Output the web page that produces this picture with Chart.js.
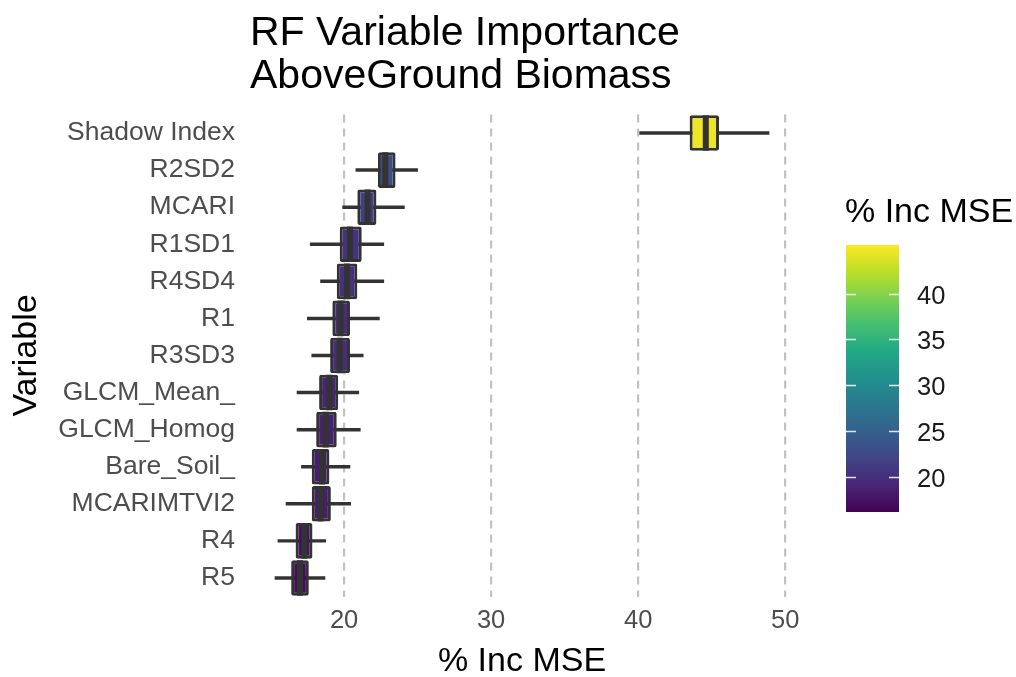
<!DOCTYPE html>
<html>
<head>
<meta charset="utf-8">
<script src="https://cdn.jsdelivr.net/npm/chart.js@4"></script>
<style>
  html, body { margin: 0; padding: 0; background: #fff; }
  #wrap { width: 1016px; height: 677px; }
</style>
</head>
<body>
<div id="wrap"><canvas id="rfChart" width="1016" height="677"></canvas></div>
<script>
// variables, top to bottom
const variables = ['Shadow Index', 'R2SD2', 'MCARI', 'R1SD1', 'R4SD4', 'R1', 'R3SD3',
    'GLCM_Mean_', 'GLCM_Homog', 'Bare_Soil_', 'MCARIMTVI2', 'R4', 'R5'];
// % Inc MSE box stats
const whiskerLow  = [40.1, 20.8, 19.9, 17.7, 18.4, 17.5, 17.8, 16.8, 16.8, 17.1, 16.05, 15.5, 15.3];
const q1          = [43.5, 22.3, 20.9, 19.7, 19.5, 19.2, 19.05, 18.3, 18.1, 17.8, 17.8, 16.7, 16.4];
const medians     = [44.6, 22.8, 21.6, 20.4, 20.2, 19.75, 19.7, 19.0, 18.75, 18.5, 18.4, 17.3, 17.0];
const q3          = [45.5, 23.5, 22.2, 21.2, 20.9, 20.4, 20.4, 19.6, 19.5, 19.0, 19.1, 17.85, 17.6];
const whiskerHigh = [48.9, 25.0, 24.1, 22.7, 22.7, 22.4, 21.3, 21.0, 21.1, 20.4, 20.45, 18.75, 18.7];

const xTicks = [20, 30, 40, 50];
const legendTicks = [20, 25, 30, 35, 40];
const fillMin = 16.15, fillMax = 45.3;

const FONT = "'Liberation Sans', Arial, sans-serif";
const viridis = ['#440154', '#482576', '#414487', '#35608D', '#2A788E', '#21908C',
    '#22A884', '#43BF71', '#7AD151', '#BBDF27', '#FDE725'];

function hexToRgb(h) {
    return [parseInt(h.substr(1, 2), 16), parseInt(h.substr(3, 2), 16), parseInt(h.substr(5, 2), 16)];
}
function viridisAt(v) {
    let t = (v - fillMin) / (fillMax - fillMin);
    t = Math.max(0, Math.min(1, t));
    const p = t * (viridis.length - 1);
    const i = Math.min(Math.floor(p), viridis.length - 2);
    const f = p - i;
    const a = hexToRgb(viridis[i]), b = hexToRgb(viridis[i + 1]);
    const c = a.map((x, k) => Math.round(x + (b[k] - x) * f));
    return `rgb(${c[0]},${c[1]},${c[2]})`;
}

// colourbar legend drawn next to the panel
const colorbar = {
    id: 'colorbar',
    afterDraw(chart) {
        const ctx = chart.ctx;
        const x0 = 846, w = 53, yTop = 245, yBot = 512;
        const yOf = v => yBot - (v - fillMin) / (fillMax - fillMin) * (yBot - yTop);
        ctx.save();
        const g = ctx.createLinearGradient(0, yBot, 0, yTop);
        viridis.forEach((c, i) => g.addColorStop(i / (viridis.length - 1), c));
        ctx.fillStyle = g;
        ctx.fillRect(x0, yTop, w, yBot - yTop);
        ctx.strokeStyle = 'rgba(255,255,255,0.85)';
        ctx.lineWidth = 1.5;
        ctx.fillStyle = '#1a1a1a';
        ctx.font = `25.5px ${FONT}`;
        ctx.textBaseline = 'middle';
        ctx.textAlign = 'left';
        legendTicks.forEach(v => {
            const y = Math.round(yOf(v)) + 0.5;
            ctx.beginPath();
            ctx.moveTo(x0, y); ctx.lineTo(x0 + 10, y);
            ctx.moveTo(x0 + w - 10, y); ctx.lineTo(x0 + w, y);
            ctx.stroke();
            ctx.fillText(String(v), 917, y + 2);
        });
        ctx.fillStyle = '#000';
        ctx.font = `34px ${FONT}`;
        ctx.fillText('% Inc MSE', 845, 213);
        ctx.restore();
    }
};

new Chart(document.getElementById('rfChart'), {
    data: {
        labels: variables,
        datasets: [
            {
                type: 'line',
                indexAxis: 'y',
                data: medians,
                showLine: false,
                pointStyle: 'line',
                pointRotation: 90,
                pointRadius: 17.8,
                pointBorderColor: '#333333',
                pointBorderWidth: 6,
                order: 0
            },
            {
                type: 'bar',
                indexAxis: 'y',
                data: variables.map((_, i) => [q1[i], q3[i]]),
                backgroundColor: medians.map(viridisAt),
                borderColor: '#333333',
                borderWidth: 3,
                borderRadius: 2,
                borderSkipped: false,
                barPercentage: 0.96,
                categoryPercentage: 1,
                grouped: false,
                order: 1
            },
            {
                type: 'bar',
                indexAxis: 'y',
                data: variables.map((_, i) => [whiskerLow[i], whiskerHigh[i]]),
                backgroundColor: '#333333',
                barThickness: 2.8,
                grouped: false,
                order: 2
            }
        ]
    },
    options: {
        indexAxis: 'y',
        responsive: false,
        animation: false,
        layout: { padding: { left: 0, right: 222, top: 0, bottom: 0 } },
        plugins: {
            legend: { display: false },
            tooltip: { enabled: false },
            title: {
                display: true,
                text: ['RF Variable Importance', 'AboveGround Biomass'],
                align: 'start',
                fullSize: false,
                color: '#000',
                font: { family: FONT, size: 41, weight: 'normal', lineHeight: 1.04 },
                padding: { top: 12.5, bottom: 16.7 }
            }
        },
        scales: {
            x: {
                type: 'linear',
                min: 13.6,
                max: 50.6,
                afterBuildTicks: s => { s.ticks = xTicks.map(v => ({ value: v })); },
                afterFit: s => { s.height = 80.5; },
                grid: { color: '#c2c2c2', lineWidth: 2.2, drawTicks: false },
                border: { display: false, dash: [8, 6] },
                ticks: { color: '#4d4d4d', padding: 9, font: { family: FONT, size: 25.5 } },
                title: {
                    display: true, text: '% Inc MSE', color: '#000',
                    font: { family: FONT, size: 34, lineHeight: 0.9 },
                    padding: { top: 0, bottom: 0 }
                }
            },
            y: {
                type: 'category',
                afterFit: s => { s.width = 250; },
                grid: { display: false, drawTicks: false },
                border: { display: false },
                ticks: { color: '#4d4d4d', padding: 15, font: { family: FONT, size: 26.5 } },
                title: {
                    display: true, text: 'Variable', color: '#000',
                    font: { family: FONT, size: 34, lineHeight: 0.9 },
                    padding: { top: 11.7, bottom: 0 }
                }
            }
        }
    },
    plugins: [colorbar]
});
</script>
</body>
</html>
